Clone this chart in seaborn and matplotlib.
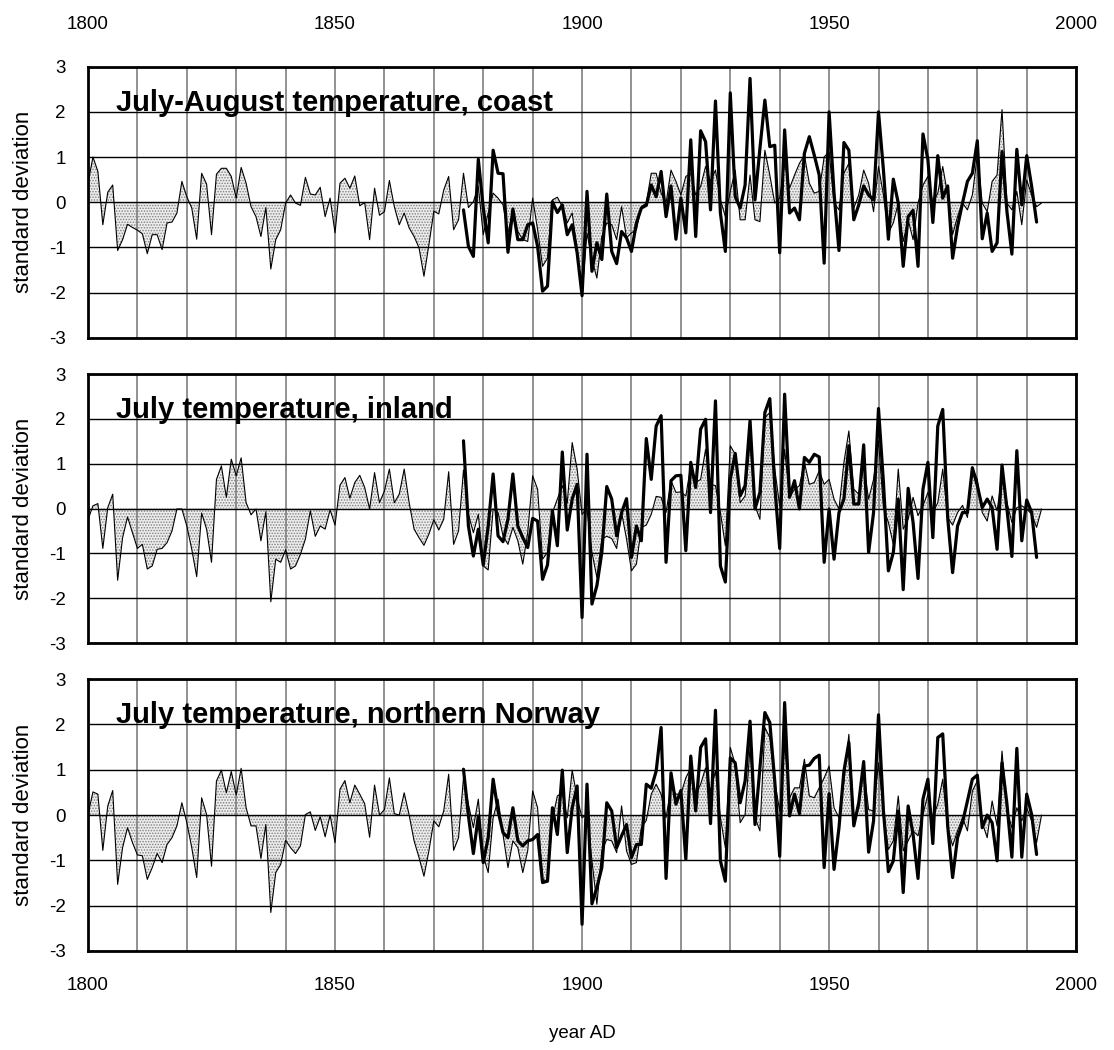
"""
Three-panel summer temperature reconstructions vs instrumental series (standard deviation units).
Writes out.png.
"""

import numpy as np
import pandas as pd
import matplotlib
matplotlib.use("Agg")
import matplotlib.pyplot as plt
import seaborn as sns

# ── Data ───────────────────────────────────────────────────────────────────
RECON_START, INSTR_START = 1800, 1876

titles = [
    "July-August temperature, coast",
    "July temperature, inland",
    "July temperature, northern Norway",
]

# reconstruction (thin line, stippled), 1800-1993
coast_recon = [
    0.42, 1.0, 0.68, -0.5, 0.22, 0.38, -1.07, -0.83, -0.49, -0.56,
    -0.62, -0.7, -1.14, -0.72, -0.72, -1.05, -0.46, -0.44, -0.24, 0.46,
    0.12, -0.13, -0.82, 0.64, 0.4, -0.72, 0.62, 0.75, 0.75, 0.57,
    0.09, 0.77, 0.42, -0.1, -0.32, -0.76, -0.12, -1.48, -0.83, -0.61,
    -0.02, 0.16, -0.02, -0.07, 0.55, 0.18, 0.16, 0.33, -0.32, 0.09,
    -0.68, 0.42, 0.53, 0.31, 0.58, -0.08, -0.01, -0.83, 0.31, -0.29,
    -0.21, 0.48, -0.1, -0.5, -0.24, -0.57, -0.76, -1.01, -1.64, -0.94,
    -0.2, -0.26, 0.27, 0.57, -0.61, -0.39, 0.64, -0.12, 0.01, 0.35,
    -0.72, -0.24, 0.2, 0.09, -0.06, -0.68, -0.2, -0.65, -0.83, -0.87,
    0.09, -0.61, -1.42, -1.24, 0.05, 0.11, -0.1, -0.46, -0.24, -1.05,
    -2.05, -0.68, -1.27, -1.68, -0.76, -0.46, -0.5, -0.83, -0.1, -0.79,
    -0.68, -0.61, -0.1, -0.02, 0.64, 0.64, 0.2, -0.02, 0.71, 0.46,
    0.16, 0.57, 0.64, 0.16, 0.35, 0.79, 0.46, 0.71, 0.05, -0.32,
    0.24, 0.71, -0.39, -0.39, 0.6, -0.39, -0.43, 1.15, 0.6, -0.02,
    0.09, 0.86, 0.31, 0.6, 0.86, 1.04, 0.42, 0.2, 0.24, 1.0,
    1.12, -0.02, -0.17, 0.64, 0.86, -0.13, 0.16, 0.71, 0.42, -0.21,
    0.79, 0.16, -0.68, -0.46, -0.02, -0.87, -0.39, -0.83, -0.02, 0.38,
    0.57, -0.02, 0.2, 0.79, 0.16, -0.72, -0.32, -0.02, -0.17, 0.16,
    1.04, -0.02, -0.21, 0.46, 0.6, 2.05, -0.02, -0.17, 0.24, -0.5,
    0.49, 0.16, -0.1, -0.02,
]
inland_recon = [
    -0.25, 0.06, 0.11, -0.89, 0.02, 0.32, -1.6, -0.65, -0.19, -0.54,
    -0.89, -0.8, -1.35, -1.28, -0.91, -0.89, -0.76, -0.5, -0.01, -0.01,
    -0.39, -0.91, -1.52, -0.1, -0.46, -1.2, 0.65, 0.95, 0.25, 1.1,
    0.73, 1.13, 0.13, -0.14, -0.01, -0.72, -0.07, -2.08, -1.13, -1.2,
    -0.92, -1.35, -1.28, -1.02, -0.68, -0.05, -0.62, -0.39, -0.46, -0.03,
    -0.37, 0.52, 0.69, 0.23, 0.58, 0.74, 0.47, -0.01, 0.8, 0.13,
    0.39, 0.88, 0.13, 0.32, 0.88, 0.13, -0.46, -0.65, -0.82, -0.57,
    -0.25, -0.48, -0.24, 0.82, -0.8, -0.5, 0.86, -0.13, -0.54, -0.13,
    -1.28, -1.37, -0.01, -0.09, -0.61, -0.8, -0.42, -0.72, -1.24, -0.54,
    0.73, 0.43, -1.13, -0.98, -0.09, 0.21, 0.51, 0.12, 1.47, 0.88,
    -0.13, -0.01, -0.98, -1.54, -0.68, -0.62, -0.67, -0.89, -0.09, -0.68,
    -1.39, -1.24, -0.42, -0.37, -0.13, 0.27, 0.25, -0.09, 0.62, 0.36,
    0.37, 0.28, 0.95, 0.58, 0.65, 1.32, 0.54, 0.51, -0.09, -0.83,
    1.4, 1.21, 0.13, 0.28, 1.47, 0.06, -0.24, 2.03, 2.14, 0.88,
    0.06, 1.32, 0.25, 0.43, 0.51, 1.03, 0.54, 0.58, 0.84, 0.54,
    0.65, 0.21, -0.01, 1.03, 1.73, 0.43, 0.32, 0.95, 0.21, 0.65,
    1.51, 0.02, -0.31, -0.8, 0.88, -0.46, -0.24, 0.25, -0.16, 0.06,
    0.36, -0.09, 0.13, 0.88, -0.2, -0.37, -0.09, 0.07, -0.2, 0.91,
    0.65, -0.09, -0.28, 0.28, -0.05, 0.73, 0.13, -0.31, 0.02, 0.06,
    -0.01, -0.13, -0.42, -0.01,
]
north_recon = [
    0.01, 0.51, 0.46, -0.78, 0.2, 0.54, -1.53, -0.72, -0.28, -0.61,
    -0.88, -0.9, -1.42, -1.16, -0.85, -1.05, -0.65, -0.5, -0.24, 0.27,
    -0.17, -0.72, -1.38, 0.38, 0.01, -1.13, 0.75, 0.99, 0.49, 0.96,
    0.44, 1.03, 0.16, -0.24, -0.24, -0.96, -0.21, -2.15, -1.27, -1.09,
    -0.56, -0.72, -0.85, -0.68, 0.01, 0.07, -0.34, -0.04, -0.48, 0.0,
    -0.61, 0.57, 0.76, 0.27, 0.66, 0.46, 0.25, -0.49, 0.66, 0.0,
    0.12, 0.82, 0.03, 0.0, 0.49, 0.0, -0.57, -0.94, -1.35, -0.79,
    -0.13, -0.26, 0.09, 0.9, -0.78, -0.5, 0.82, 0.24, -0.28, 0.35,
    -0.9, -1.27, -0.06, 0.35, -0.43, -1.16, -0.57, -0.72, -1.27, -0.79,
    0.53, 0.16, -1.42, -1.46, -0.1, 0.42, 0.49, -0.06, 0.99, 0.38,
    -0.06, 0.01, -1.01, -1.97, -0.79, -0.54, -0.57, -0.83, 0.2, -0.79,
    -1.09, -1.05, -0.28, -0.12, 0.46, 0.68, 0.46, -0.06, 0.6, 0.46,
    0.46, 0.82, 1.04, 0.46, 0.68, 1.04, 0.53, 0.97, -0.06, -0.72,
    1.49, 1.12, -0.17, 0.01, 1.49, -0.06, -0.35, 1.93, 1.71, 0.75,
    0.09, 1.56, 0.38, 0.6, 0.6, 1.23, 0.42, 0.38, 0.6, 0.82,
    1.08, 0.16, -0.06, 0.75, 1.78, -0.06, 0.16, 1.04, 0.12, 0.09,
    1.15, 0.09, -0.76, -0.57, 0.42, -0.79, -0.57, -0.35, -0.46, 0.01,
    0.46, -0.06, 0.24, 0.79, -0.28, -0.68, -0.35, -0.06, -0.35, 0.53,
    0.75, -0.17, -0.5, 0.31, -0.24, 1.41, 0.09, -0.28, 0.16, -0.13,
    0.16, -0.13, -0.61, 0.0,
]

# instrumental (thick line), 1876-1992
coast_instr = [
    -0.17, -0.98, -1.2, 0.95,
    -0.13, -0.9, 1.15, 0.64, 0.63, -1.11, -0.15, -0.83, -0.83, -0.5,
    -0.46, -0.98, -1.97, -1.86, 0.01, -0.23, -0.06, -0.72, -0.5, -1.12,
    -2.07, 0.24, -1.53, -0.9, -1.27, 0.18, -1.09, -1.36, -0.65, -0.79,
    -1.09, -0.46, -0.13, -0.07, 0.38, 0.12, 0.68, -0.32, 0.36, -0.82,
    0.09, -0.68, 1.38, -0.76, 1.58, 1.34, -0.17, 2.24, -0.24, -1.09,
    2.42, 0.12, -0.13, 0.38, 2.74, 0.05, 1.19, 2.26, 1.23, 1.26,
    -1.12, 1.6, -0.24, -0.13, -0.39, 1.08, 1.45, 1.04, 0.6, -1.35,
    2.0, 0.2, -1.07, 1.32, 1.15, -0.39, -0.06, 0.36, 0.16, 0.05,
    2.0, 0.71, -0.82, 0.51, -0.02, -1.42, -0.32, -0.18, -1.42, 1.51,
    0.94, -0.45, 1.03, 0.09, 0.36, -1.24, -0.54, -0.02, 0.46, 0.64,
    1.36, -0.81, -0.24, -1.09, -0.9, 1.12, -0.21, -1.15, 1.17, -0.06,
    1.03, 0.35, -0.44,
]
inland_instr = [
    1.51, -0.39, -1.06, -0.46,
    -1.26, -0.39, 0.77, -0.61, -0.74, -0.24, 0.77, -0.39, -0.65, -0.87,
    -0.22, -0.28, -1.58, -1.26, -0.05, -0.83, 1.26, -0.48, 0.21, 0.54,
    -2.43, 1.21, -2.13, -1.72, -0.98, 0.49, 0.21, -0.61, -0.09, 0.22,
    -1.09, -0.39, -0.72, 1.56, 0.65, 1.84, 2.07, -1.2, 0.62, 0.73,
    0.74, -0.94, 1.03, 0.47, 1.77, 1.99, -0.09, 2.4, -1.28, -1.64,
    0.65, 1.23, 0.28, 0.51, 1.96, -0.01, 0.36, 2.14, 2.45, 0.51,
    -0.89, 2.55, 0.25, 0.62, -0.01, 1.14, 1.03, 1.21, 1.15, -1.2,
    -0.01, -1.13, -0.09, 0.21, 1.4, 0.1, 0.1, 1.42, -0.98, -0.09,
    2.23, 0.58, -1.39, -0.98, 0.21, -1.81, 0.45, -0.31, -1.56, 0.43,
    1.03, -0.65, 1.84, 2.21, -0.2, -1.43, -0.39, -0.09, -0.09, 0.91,
    0.51, 0.02, 0.21, 0.02, -0.91, 0.97, -0.01, -1.07, 1.29, -0.72,
    0.19, -0.09, -1.09,
]
north_instr = [
    1.01, -0.02, -0.85, -0.02,
    -1.05, -0.5, 0.79, 0.09, -0.39, -0.5, 0.16, -0.57, -0.68, -0.57,
    -0.54, -0.43, -1.49, -1.46, 0.16, -0.43, 0.99, -0.83, 0.16, 0.64,
    -2.41, 0.68, -1.96, -1.6, -1.16, 0.27, 0.09, -0.72, -0.46, -0.21,
    -0.94, -0.65, -0.65, 0.68, 0.59, 0.97, 1.93, -1.4, 0.93, 0.24,
    0.54, -0.98, 1.3, 0.09, 1.49, 1.68, -0.19, 2.31, -1.01, -1.46,
    1.26, 1.15, 0.27, 0.75, 2.07, -0.21, 1.04, 2.26, 2.04, 0.75,
    -0.91, 2.48, -0.02, 0.46, 0.03, 1.08, 1.1, 1.25, 1.32, -1.16,
    0.47, -1.2, -0.28, 0.97, 1.6, -0.24, 0.27, 1.18, -0.82, -0.13,
    2.21, 0.09, -1.25, -1.01, 0.09, -1.71, 0.2, -0.43, -1.4, 0.35,
    0.79, -0.63, 1.71, 1.79, -0.24, -1.38, -0.5, -0.17, 0.31, 0.79,
    0.88, -0.28, 0.0, -0.17, -1.01, 1.15, 0.24, -0.93, 1.47, -0.93,
    0.46, 0.01, -0.87,
]

recon_series = [coast_recon, inland_recon, north_recon]
instr_series = [coast_instr, inland_instr, north_instr]

# ── Style ──────────────────────────────────────────────────────────────────
sns.set_theme(style="white")
plt.rcParams["font.family"] = ["Liberation Sans", "DejaVu Sans"]
plt.rcParams.update({
    "text.color": "black", "axes.labelcolor": "black",
    "xtick.color": "black", "ytick.color": "black",
    "axes.unicode_minus": False,
    "hatch.linewidth": 0.7, "hatch.color": "#808080",
})

fig = plt.figure(figsize=(11.14, 10.5), dpi=100)
# [left, bottom, width, height] in figure fractions
panel_pos = [
    [0.079, 0.6784, 0.887, 0.2581],
    [0.079, 0.3876, 0.887, 0.2562],
    [0.079, 0.0943, 0.887, 0.2590],
]

for i, (title, rec, ins) in enumerate(zip(titles, recon_series, instr_series)):
    ax = fig.add_axes(panel_pos[i])
    recon = pd.DataFrame({"year": np.arange(RECON_START, RECON_START + len(rec)), "sd": rec})
    instr = pd.DataFrame({"year": np.arange(INSTR_START, INSTR_START + len(ins)), "sd": ins})

    ax.fill_between(recon["year"], recon["sd"], 0, facecolor="#ececec",
                    hatch="......", edgecolor="#808080", linewidth=0, zorder=1)
    sns.lineplot(data=recon, x="year", y="sd", ax=ax, color="black", lw=0.8, zorder=3)
    sns.lineplot(data=instr, x="year", y="sd", ax=ax, color="black", lw=2.3, zorder=4)

    ax.set_xlim(1800, 2000)
    ax.set_ylim(-3, 3)
    ax.set_xticks(range(1800, 2001, 50))
    ax.set_xticks(range(1800, 2001, 10), minor=True)
    ax.set_yticks(range(-3, 4))
    ax.set_axisbelow("line")
    ax.grid(which="both", axis="x", color="#7f7f7f", lw=1.2, zorder=2)
    ax.grid(which="major", axis="y", color="black", lw=1.0, zorder=2)
    ax.tick_params(which="both", length=0)
    ax.tick_params(axis="y", labelsize=13.5, pad=16)
    ax.tick_params(axis="x", labelsize=13.5)
    for sp in ax.spines.values():
        sp.set_color("black")
        sp.set_linewidth(2.0)
        sp.set_zorder(5)

    ax.set_xlabel("")
    ax.set_ylabel("standard deviation", fontsize=16)
    ax.yaxis.set_label_coords(-0.055, 0.5)

    if i == 0:
        ax.xaxis.tick_top()
        ax.tick_params(axis="x", pad=24)
    elif i == 1:
        ax.tick_params(axis="x", labelbottom=False)
    else:
        ax.tick_params(axis="x", pad=19)
        ax.set_xlabel("year AD", fontsize=13.5, labelpad=22)

    ax.text(0.028, 0.867, title, transform=ax.transAxes, fontsize=21,
            fontweight="bold", ha="left", va="center", zorder=6)

fig.savefig("out.png", dpi=100)
